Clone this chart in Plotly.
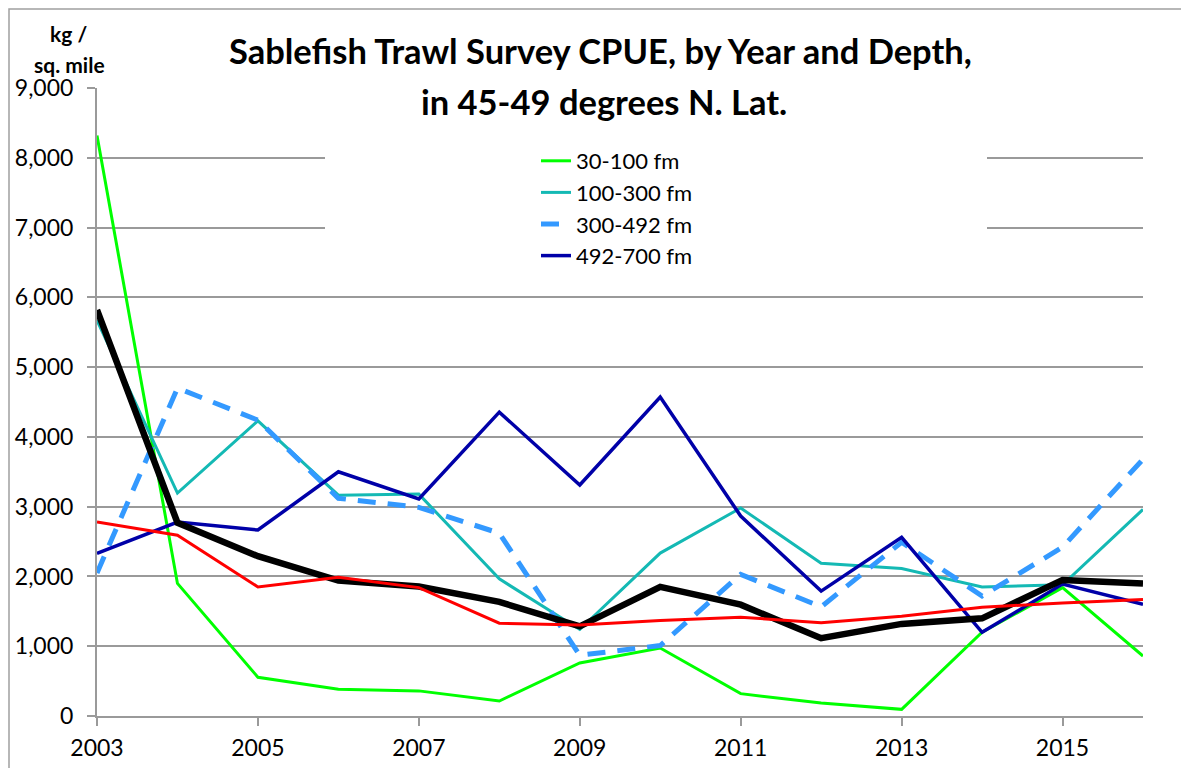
import plotly.graph_objects as go

years = list(range(2003, 2017))

fm_30_100 = [8320, 1900, 555, 385, 360, 215, 760, 975, 320, 185, 95, 1200, 1840, 860]
fm_100_300 = [5670, 3195, 4230, 3165, 3180, 1965, 1240, 2335, 2980, 2190, 2115, 1850, 1880, 2960]
fm_300_492 = [2050, 4700, 4240, 3120, 2990, 2620, 870, 1010, 2030, 1565, 2490, 1720, 2420, 3680]
fm_492_700 = [2330, 2780, 2665, 3500, 3110, 4355, 3310, 4570, 2865, 1790, 2560, 1200, 1890, 1600]
red_series = [2780, 2590, 1850, 1990, 1840, 1330, 1305, 1370, 1415, 1338, 1428, 1560, 1620, 1670]
black_series = [5820, 2770, 2290, 1940, 1855, 1635, 1285, 1850, 1595, 1115, 1320, 1400, 1950, 1900]

y_ticks = list(range(0, 9001, 1000))
y_tick_text = [f"{v:,}" for v in y_ticks]

FONT = "Lato"
GRID = "#9a9a9a"


def px_x(px):
    # page pixel -> paper x (plot area 97..1143 on the page)
    return (px - 97) / 1046


def px_y(py):
    # page pixel -> paper y (plot area 88..716 on the page)
    return (716 - py) / 628


fig = go.Figure()

series = [
    ("30-100 fm", fm_30_100, "#00FF00", 3, "solid", True),
    ("100-300 fm", fm_100_300, "#14B9B4", 3, "solid", True),
    ("300-492 fm", fm_300_492, "#3399FF", 5, "18px,12px", True),
    ("492-700 fm", fm_492_700, "#0000A8", 3.5, "solid", True),
    ("avg", black_series, "#000000", 6.5, "solid", False),
    ("other", red_series, "#FF0000", 3, "solid", False),
]

for name, vals, color, width, dash, show in series:
    fig.add_trace(go.Scatter(
        x=years, y=vals, name=name, mode="lines",
        line=dict(color=color, width=width, dash=dash),
        showlegend=show,
    ))

# white box behind the legend that hides the gridlines (no lines pass there)
fig.add_shape(type="rect", xref="paper", yref="paper",
              x0=px_x(325), x1=px_x(987), y0=px_y(268), y1=px_y(130),
              fillcolor="white", line=dict(width=0), layer="above")

# outer chart border
fig.add_shape(type="rect", xref="paper", yref="paper",
              x0=px_x(9), x1=px_x(1200), y0=px_y(790), y1=px_y(9),
              fillcolor="rgba(0,0,0,0)", line=dict(color="#a0a0a0", width=1.5),
              layer="above")

fig.add_annotation(text="<b>Sablefish Trawl Survey CPUE, by Year and Depth,</b>",
                   xref="paper", yref="paper", x=px_x(600), y=px_y(51),
                   xanchor="center", yanchor="middle", showarrow=False,
                   font=dict(family=FONT, size=34.5, color="black"))
fig.add_annotation(text="<b>in 45-49 degrees N. Lat.</b>",
                   xref="paper", yref="paper", x=px_x(604), y=px_y(101),
                   xanchor="center", yanchor="middle", showarrow=False,
                   font=dict(family=FONT, size=34.5, color="black"))
fig.add_annotation(text="<b>kg /</b>", xref="paper", yref="paper",
                   x=px_x(68), y=px_y(33), xanchor="center", yanchor="middle",
                   showarrow=False, font=dict(family=FONT, size=21, color="black"))
fig.add_annotation(text="<b>sq. mile</b>", xref="paper", yref="paper",
                   x=px_x(69), y=px_y(64), xanchor="center", yanchor="middle",
                   showarrow=False, font=dict(family=FONT, size=21, color="black"))

fig.update_layout(
    # the page adds an 8px body margin, so the figure is sized to fit inside it
    width=1181, height=760,
    margin=dict(l=89, r=46, t=80, b=52),
    paper_bgcolor="white", plot_bgcolor="white",
    font=dict(family=FONT, size=23, color="black"),
    legend=dict(x=px_x(536), y=px_y(140), xanchor="left", yanchor="top",
                bgcolor="rgba(0,0,0,0)", font=dict(family=FONT, size=22),
                tracegroupgap=0),
    xaxis=dict(range=[2003, 2016], tick0=2003, dtick=2, showgrid=False,
               showline=True, linecolor=GRID, linewidth=2,
               ticks="outside", ticklen=8, tickcolor=GRID, tickwidth=1.5,
               ticklabelstandoff=2, zeroline=False, automargin=False),
    yaxis=dict(range=[0, 9000], tickvals=y_ticks, ticktext=y_tick_text,
               showgrid=True, gridcolor=GRID, gridwidth=1.5,
               showline=True, linecolor=GRID, linewidth=2,
               ticks="outside", ticklen=8, tickcolor=GRID, tickwidth=1.5,
               ticklabelstandoff=9, zeroline=False, automargin=False),
)

fig.write_html("out.html")
